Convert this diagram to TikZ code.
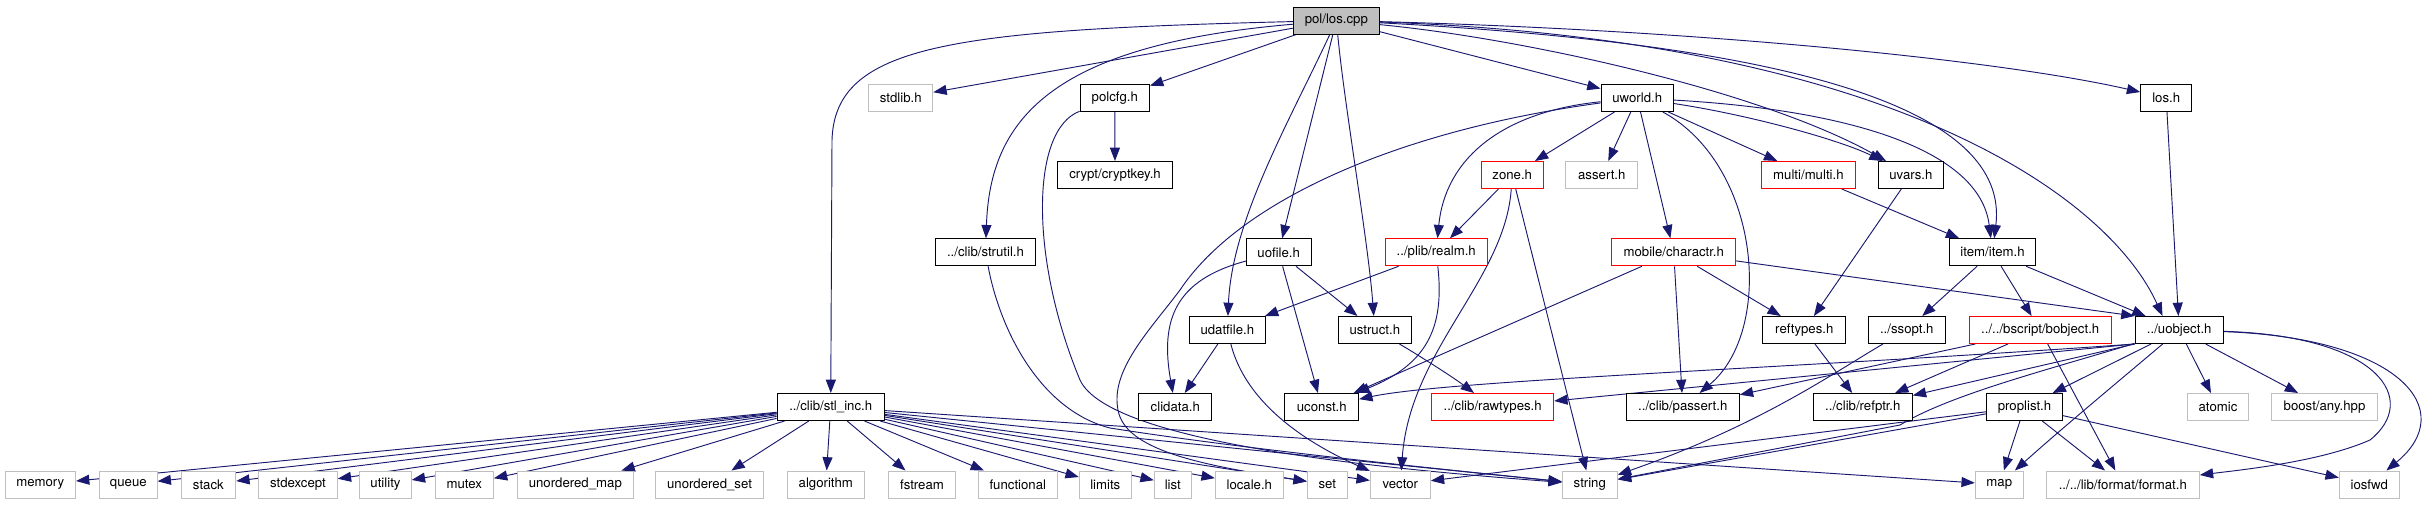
\documentclass[tikz,border=0pt]{standalone}
\usepackage{fontspec}
\setmainfont{TeX Gyre Heros}
\usetikzlibrary{arrows.meta}
\definecolor{mblue}{HTML}{191970}
\definecolor{gbord}{HTML}{BFBFBF}
\pgfdeclarelayer{bg}
\pgfsetlayers{bg,main}
\begin{document}
\begin{tikzpicture}[x=0.75pt,y=-0.75pt,
  nbox/.style={rectangle,draw,line width=0.75pt,minimum height=27*0.75pt,inner sep=0pt,
    font=\fontsize{9.9pt}{11pt}\selectfont,fill=white,text=black},
  nb/.style={nbox,draw=black},
  ng/.style={nbox,draw=gbord},
  nr/.style={nbox,draw=red},
  nroot/.style={nbox,draw=black,fill=gbord},
  bw/.style={minimum width=#1*0.75pt},
  ed/.style={draw=mblue,line width=0.7pt,-{Triangle[length=10pt,width=7.5pt]}}
]
\useasboundingbox (0,0) rectangle (2423,504);
% row 0
\node[nroot,bw=86] (R) at (1336.3,20.5) {pol/los.cpp};
% row 1
\node[ng,bw=64] (stdlib) at (900.8,98) {stdlib.h};
\node[nb,bw=69.4] (polcfg) at (1114.8,98) {polcfg.h};
\node[nb,bw=72.3] (U) at (1637.2,98) {uworld.h};
\node[nb,bw=51] (L) at (2166.2,98) {los.h};
% row 2
\node[nb,bw=114.7] (cryptkey) at (1115,175) {crypt/cryptkey.h};
\node[nr,bw=62.3] (Z) at (1512.2,175) {zone.h};
\node[ng,bw=71.7] (assert) at (1601.8,175) {assert.h};
\node[nr,bw=94] (M) at (1808.4,175) {multi/multi.h};
\node[nb,bw=65.3] (V) at (1910.9,175) {uvars.h};
% row 3
\node[nb,bw=100.5] (S) at (985.5,252.3) {../clib/strutil.h};
\node[nb,bw=64.6] (O) at (1278.7,252.3) {uofile.h};
\node[nr,bw=102.3] (RL) at (1436.2,252.3) {../plib/realm.h};
\node[nr,bw=124] (C) at (1673.7,252.3) {mobile/charactr.h};
\node[nb,bw=86] (I) at (1992.5,252.3) {item/item.h};
% row 4
\node[nb,bw=76] (D) at (1227.3,330) {udatfile.h};
\node[nb,bw=73] (US) at (1374.8,330) {ustruct.h};
\node[nb,bw=82.7] (RF) at (1804.3,330) {reftypes.h};
\node[nb,bw=77] (SS) at (1906.8,330) {../ssopt.h};
\node[nr,bw=141.7] (B) at (2040.2,330) {../../bscript/bobject.h};
\node[nb,bw=88.3] (UO) at (2179.2,330) {../uobject.h};
% row 5
\node[nb,bw=107.3] (T) at (830.7,407) {../clib/stl\_inc.h};
\node[nb,bw=72.7] (CD) at (1175.3,407) {clidata.h};
\node[nb,bw=73.7] (UC) at (1321.8,407) {uconst.h};
\node[nr,bw=122] (RW) at (1492.7,407) {../clib/rawtypes.h};
\node[nb,bw=113] (PA) at (1682.8,407) {../clib/passert.h};
\node[nb,bw=99] (RP) at (1862.8,407) {../clib/refptr.h};
\node[nb,bw=75.6] (PL) at (2024.5,407) {proplist.h};
\node[ng,bw=61.4] (AT) at (2218,407) {atomic};
\node[ng,bw=106.4] (BA) at (2324.5,407) {boost/any.hpp};
% row 6
\node[ng,bw=70.4] (nmemory) at (40.3,484.5) {memory};
\node[ng,bw=57.6] (nqueue) at (128.3,484.5) {queue};
\node[ng,bw=54.6] (nstack) at (208.4,484.5) {stack};
\node[ng,bw=78.5] (nstdexcept) at (298,484.5) {stdexcept};
\node[ng,bw=51.5] (nutility) at (385.5,484.5) {utility};
\node[ng,bw=58.2] (nmutex) at (464.3,484.5) {mutex};
\node[ng,bw=115.9] (numap) at (575.3,484.5) {unordered\_map};
\node[ng,bw=107.7] (nuset) at (709.5,484.5) {unordered\_set};
\node[ng,bw=77] (nalgorithm) at (825.8,484.5) {algorithm};
\node[ng,bw=67.4] (nfstream) at (922,484.5) {fstream};
\node[ng,bw=79] (nfunctional) at (1017.8,484.5) {functional};
\node[ng,bw=52] (nlimits) at (1105.3,484.5) {limits};
\node[ng,bw=37] (nlist) at (1172.8,484.5) {list};
\node[ng,bw=68] (nlocale) at (1249.3,484.5) {locale.h};
\node[ng,bw=40] (nset) at (1327.3,484.5) {set};
\node[ng,bw=60] (nvector) at (1400.3,484.5) {vector};
\node[ng,bw=55] (nstring) at (1589.8,484.5) {string};
\node[ng,bw=48] (nmap) at (1999.3,484.5) {map};
\node[ng,bw=153] (nformat) at (2122.8,484.5) {../../lib/format/format.h};
\node[ng,bw=60] (niosfwd) at (2369.3,484.5) {iosfwd};

\begin{pgfonlayer}{bg}
\fill[white] (0,0) rectangle (2423,504);
% pol/los.cpp
\draw[ed] (R) .. controls (950,30) and (835,45) .. (832,140) -- (T);
\draw[ed] (R) -- (stdlib);
\draw[ed] (R) .. controls (1050,45) and (990,120) .. (S);
\draw[ed] (R) -- (polcfg);
\draw[ed] (R) .. controls (1290,120) and (1232,220) .. (D);
\draw[ed] (R) -- (O);
\draw[ed] (R) .. controls (1345,110) and (1368,240) .. (US);
\draw[ed] (R) -- (U);
\draw[ed] (R) .. controls (1520,38) and (1760,90) .. (V);
\draw[ed] (R) .. controls (1800,45) and (2010,110) .. (I);
\draw[ed] (R) .. controls (1900,40) and (2110,200) .. (UO.140);
\draw[ed] (R) .. controls (1700,30) and (2000,60) .. (L);
% uworld.h
\draw[ed] (U) .. controls (1500,112) and (1445,160) .. (RL);
\draw[ed] (U) -- (Z);
\draw[ed] (U) -- (assert);
\draw[ed] (U) -- (C);
\draw[ed] (U) .. controls (1760,165) and (1775,330) .. (PA);
\draw[ed] (U) -- (M);
\draw[ed] (U) .. controls (1750,115) and (1840,140) .. (V);
\draw[ed] (U) .. controls (1850,110) and (1980,150) .. (I);
\draw[ed] (U) .. controls (1400,130) and (1240,200) .. (1180,290) .. controls (1150,330) and (1110,370) .. (1118,410) .. controls (1125,450) and (1200,465) .. (nset);
% polcfg.h
\draw[ed] (polcfg) -- (cryptkey);
\draw[ed] (polcfg) .. controls (1030,130) and (1030,260) .. (1080,380) .. controls (1110,445) and (1400,470) .. (nstring);
% strutil
\draw[ed] (S) .. controls (1000,330) and (1040,410) .. (1110,428) .. controls (1250,450) and (1450,470) .. (nstring);
% stl_inc
\foreach \t in {nmemory,nqueue,nstack,nstdexcept,nutility,nmutex,numap,nuset,nalgorithm,nfstream,nfunctional,nlimits,nlist,nlocale,nset,nvector,nstring,nmap}
  \draw[ed] (T) -- (\t);
% uofile
\draw[ed] (O) .. controls (1175,280) and (1160,320) .. (CD);
\draw[ed] (O) -- (UC);
\draw[ed] (O) -- (US);
% udatfile
\draw[ed] (D) -- (CD);
\draw[ed] (D) .. controls (1245,400) and (1300,440) .. (nvector);
% realm
\draw[ed] (RL) -- (D);
\draw[ed] (RL) .. controls (1445,330) and (1425,365) .. (UC);
% zone
\draw[ed] (Z) -- (RL);
\draw[ed] (Z) .. controls (1505,280) and (1410,350) .. (nvector);
\draw[ed] (Z) -- (nstring);
% charactr
\draw[ed] (C) -- (UC);
\draw[ed] (C) -- (PA);
\draw[ed] (C) -- (RF);
\draw[ed] (C) -- (UO.north west);
% multi, uvars, item, los.h
\draw[ed] (M) -- (I);
\draw[ed] (V) -- (RF);
\draw[ed] (I) -- (SS);
\draw[ed] (I) -- (B);
\draw[ed] (I) -- (UO);
\draw[ed] (L) -- (UO);
% row 4
\draw[ed] (US) .. controls (1410,350) and (1450,375) .. (RW);
\draw[ed] (RF) -- (RP);
\draw[ed] (SS) .. controls (1830,375) and (1760,425) .. (nstring);
\draw[ed] (B) -- (PA);
\draw[ed] (B) -- (RP);
\draw[ed] (B) -- (nformat);
% uobject
\draw[ed] (UO.south west) .. controls (1800,368) and (1450,380) .. (UC);
\draw[ed] (UO.south west) -- (RW);
\draw[ed] (UO.south west) -- (RP);
\draw[ed] (UO) .. controls (2040,372) and (1950,395) .. (1900,425) -- (nstring);
\draw[ed] (UO) -- (PL);
\draw[ed] (UO) .. controls (2120,380) and (2060,430) .. (nmap);
\draw[ed] (UO) -- (AT);
\draw[ed] (UO) -- (BA);
\draw[ed] (UO) .. controls (2400,338) and (2460,410) .. (niosfwd);
\draw[ed] (UO) .. controls (2380,336) and (2420,400) .. (2370,440) .. controls (2320,462) and (2240,470) .. (nformat);
% proplist
\draw[ed] (PL) -- (nvector);
\draw[ed] (PL) -- (nstring);
\draw[ed] (PL) -- (nmap);
\draw[ed] (PL) -- (nformat);
\draw[ed] (PL) -- (niosfwd);
\end{pgfonlayer}
\end{tikzpicture}
\end{document}
